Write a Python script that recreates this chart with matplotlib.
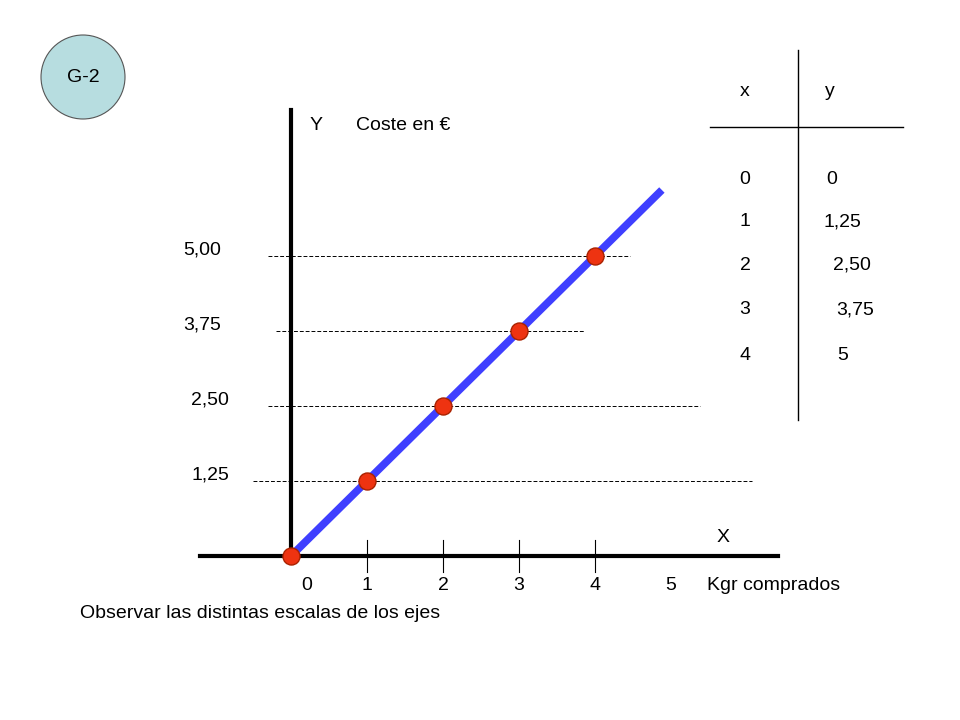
import matplotlib
matplotlib.use("Agg")
import matplotlib.pyplot as plt
from matplotlib.patches import Ellipse

plt.rcParams["font.family"] = "Liberation Sans"

xs = [0, 1, 2, 3, 4]
ys = [0, 1.25, 2.50, 3.75, 5]
x_ticks = ["0", "1", "2", "3", "4", "5"]
y_labels = ["1,25", "2,50", "3,75", "5,00"]
table_x = ["0", "1", "2", "3", "4"]
table_y = ["0", "1,25", "2,50", "3,75", "5"]

PX = 76.0   # px per x unit
PY = 60.0   # px per y unit
fig = plt.figure(figsize=(9.6, 7.2), dpi=100)
ax = fig.add_axes([0, 0, 1, 1])
ax.set_xlim(-291 / PX, (960 - 291) / PX)
ax.set_ylim(-164 / PY, (720 - 164) / PY)
ax.axis("off")

def P(px, py):
    return ((px - 291) / PX, (556 - py) / PY)

fs = 14
for yv, (a, b) in zip([1.25, 2.5, 3.75, 5.0], [(253, 752), (268, 700), (276, 585), (268, 630)]):
    ax.plot([P(a, 0)[0], P(b, 0)[0]], [yv, yv], ls=(0, (4, 2)), color="black", lw=0.7)
ax.plot([0, 0], [0, P(0, 110)[1]], color="black", lw=3)
ax.plot([P(200, 0)[0], P(778, 0)[0]], [0, 0], color="black", lw=3)
for t in range(1, 5):
    ax.plot([t, t], [P(0, 572)[1], P(0, 540)[1]], color="black", lw=0.8)
ax.plot([0, 4.88], [0, 1.25 * 4.88], color="#3f3fff", lw=5.5, solid_capstyle="butt")
ax.scatter(xs, ys, s=150, color="#ee3311", edgecolor="#aa2200", zorder=5)
for i, t in enumerate(x_ticks):
    xx = 0.2 if i == 0 else i
    ax.text(xx, P(0, 585)[1], t, fontsize=fs, ha="center", va="center")
ax.text(P(707, 0)[0], P(0, 585)[1], "Kgr comprados", fontsize=fs, ha="left", va="center")
for lab, yv, px in zip(y_labels, [1.25, 2.5, 3.75, 5.0], [210, 210, 202, 202]):
    ax.text(P(px, 0)[0], yv + 0.1, lab, fontsize=fs, ha="center", va="center")
ax.text(*P(316, 125), "Y", fontsize=fs, ha="center", va="center")
ax.text(*P(356, 125), "Coste en €", fontsize=fs, ha="left", va="center")
ax.text(*P(723, 538), "X", fontsize=fs, ha="center", va="center")
ax.text(*P(80, 613), "Observar las distintas escalas de los ejes", fontsize=fs, ha="left", va="center")
ax.plot([P(798, 0)[0]] * 2, [P(0, 50)[1], P(0, 420)[1]], color="black", lw=1)
ax.plot([P(710, 0)[0], P(903, 0)[0]], [P(0, 127)[1]] * 2, color="black", lw=1)
ax.text(*P(745, 92), "x", fontsize=fs, ha="center", va="center")
ax.text(*P(830, 92), "y", fontsize=fs, ha="center", va="center")
ypos = [180, 222, 265, 310, 355]
yxs = [832, 842, 852, 855, 843]
for tx, ty, py, qx in zip(table_x, table_y, ypos, yxs):
    ax.text(*P(745, py), tx, fontsize=fs, ha="center", va="center")
    ax.text(*P(qx, py), ty, fontsize=fs, ha="center", va="center")
c = P(83, 77)
ax.add_patch(Ellipse(c, 84 / PX, 84 / PY, facecolor="#b7dde0", edgecolor="#555555", lw=0.8))
ax.text(*c, "G-2", fontsize=fs, ha="center", va="center")

fig.savefig("out.png", dpi=100)
